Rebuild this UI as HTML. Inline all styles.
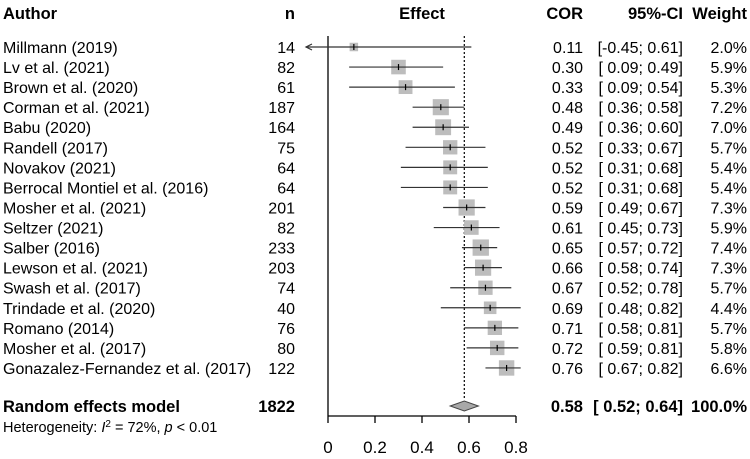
<!DOCTYPE html>
<html><head><meta charset="utf-8"><style>
body{margin:0;background:#fff}
svg text{font-family:"Liberation Sans",Arial,sans-serif;fill:#000}
</style></head><body>
<svg id="c" width="750" height="454" xmlns="http://www.w3.org/2000/svg"></svg>
<script>
const authors=["Millmann (2019)","Lv et al. (2021)","Brown et al. (2020)","Corman et al. (2021)","Babu (2020)","Randell (2017)","Novakov (2021)","Berrocal Montiel et al. (2016)","Mosher et al. (2021)","Seltzer (2021)","Salber (2016)","Lewson et al. (2021)","Swash et al. (2017)","Trindade et al. (2020)","Romano (2014)","Mosher et al. (2017)","Gonazalez-Fernandez et al. (2017)"];
const ns=[14,82,61,187,164,75,64,64,201,82,233,203,74,40,76,80,122];
const cor=[0.11,0.30,0.33,0.48,0.49,0.52,0.52,0.52,0.59,0.61,0.65,0.66,0.67,0.69,0.71,0.72,0.76];
const lo=[-0.45,0.09,0.09,0.36,0.36,0.33,0.31,0.31,0.49,0.45,0.57,0.58,0.52,0.48,0.58,0.59,0.67];
const hi=[0.61,0.49,0.54,0.58,0.60,0.67,0.68,0.68,0.67,0.73,0.72,0.74,0.78,0.82,0.81,0.81,0.82];
const weights=[2.0,5.9,5.3,7.2,7.0,5.7,5.4,5.4,7.3,5.9,7.4,7.3,5.7,4.4,5.7,5.8,6.6];
const pooled=[0.58,0.52,0.64];
const totalN=1822;
const ticks=[0,0.2,0.4,0.6,0.8];
const X=v=>328+v*235;
const Y=i=>47+i*20.06;
const svg=document.getElementById('c');
function el(tag,attrs,txt){const e=document.createElementNS('http://www.w3.org/2000/svg',tag);for(const k in attrs)e.setAttribute(k,attrs[k]);if(txt!==undefined)e.textContent=txt;svg.appendChild(e);return e;}
function t(x,y,s,anchor,bold,size){return el('text',{x:x,y:y,'text-anchor':anchor,'font-size':size||16,'font-weight':bold?'bold':'normal'},s);}
const f2=v=>(v<0?'-':'')+Math.abs(v).toFixed(2);
const pad=v=>v<0?f2(v):' '+f2(v);
let h;
h=t(3,19,'Author','start',1,16.5);
h=t(295,19,'n','end',1,16.5);
h=t(422,19,'Effect','middle',1,16.5);
h=t(583,19,'COR','end',1,16.5);
h=t(683,19,'95%-CI','end',1,16.5);
h=t(747,19,'Weight','end',1,16.5);
let a=el('line',{x1:X(0),y1:36,x2:X(0),y2:416,stroke:'#000','stroke-width':1.3});

a=el('line',{x1:X(pooled[0]),y1:36,x2:X(pooled[0]),y2:400,stroke:'#000','stroke-width':1.2,'stroke-dasharray':'2,2'});

a=el('line',{x1:X(0),y1:416,x2:X(0.8),y2:416,stroke:'#000','stroke-width':1.3});

ticks.forEach(v=>{
  const l=el('line',{x1:X(v),y1:416,x2:X(v),y2:423,stroke:'#000','stroke-width':1.3});
  
  const tx=t(X(v),453,String(v),'middle',0,17);
  
});
authors.forEach((name,i)=>{
  const y=Y(i);
  let e=t(3,y+6,name,'start');
  e=t(295,y+6,String(ns[i]),'end');
  e=t(583,y+6,cor[i].toFixed(2),'end');
  e=t(683,y+6,'['+pad(lo[i])+'; '+f2(hi[i])+']','end');e.setAttribute('style','white-space:pre');
  e=t(747,y+6,weights[i].toFixed(1)+'%','end');
  const s=6*Math.sqrt(weights[i]);
  e=el('rect',{x:X(cor[i])-s/2,y:y-s/2,width:s,height:s,fill:'#bdbdbd'});
  
  const x1=lo[i]<0?306:X(lo[i]);
  e=el('line',{x1:x1,y1:y,x2:X(hi[i]),y2:y,stroke:'#333','stroke-width':1.2});
  
  if(lo[i]<0){e=el('path',{d:`M${x1+6} ${y-3} L${x1} ${y} L${x1+6} ${y+3}`,fill:'none',stroke:'#333','stroke-width':1.2});}
  e=el('line',{x1:X(cor[i]),y1:y-3,x2:X(cor[i]),y2:y+3,stroke:'#000','stroke-width':1.2});
  
});
const ys=406;
let e=t(3,ys+6,'Random effects model','start',1,16.5);
e=t(295,ys+6,String(totalN),'end',1,16.5);
e=t(583,ys+6,pooled[0].toFixed(2),'end',1,16.5);
e=t(683,ys+6,'[ '+f2(pooled[1])+'; '+f2(pooled[2])+']','end',1,16.5);e.setAttribute('style','white-space:pre');
e=t(747,ys+6,'100.0%','end',1,16.5);
e=el('polygon',{points:`${X(pooled[1])},${ys} ${X(pooled[0])},${ys-5} ${X(pooled[2])},${ys} ${X(pooled[0])},${ys+5}`,fill:'#a8a8a8',stroke:'#444','stroke-width':1});

e=el('text',{x:3,y:432,'font-size':14.5});
e.innerHTML='Heterogeneity: <tspan font-style="italic">I</tspan><tspan baseline-shift="super" font-size="10">2</tspan> = 72%, <tspan font-style="italic">p</tspan> &lt; 0.01';

</script>
</body></html>
